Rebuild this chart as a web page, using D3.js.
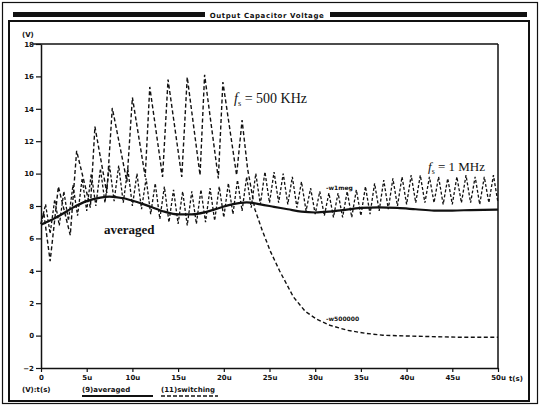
<!DOCTYPE html>
<html>
<head>
<meta charset="utf-8">
<script src="https://cdn.jsdelivr.net/npm/d3@7"></script>
<style>
  html, body { margin: 0; padding: 0; background: #fff; }
  svg { display: block; }
</style>
</head>
<body>
<div id="chart"></div>
<script>
// Output capacitor voltage: averaged model vs. switching model (500 kHz / 1 MHz)

const INK = '#111';
const FONT_TICK = "'DejaVu Sans', sans-serif";
const FONT_NOTE = "'Liberation Serif', serif";

// y ticks (V) and x ticks (us)
const yTicks = [-2, 0, 2, 4, 6, 8, 10, 12, 14, 16, 18];
const xTicks = [0, 5, 10, 15, 20, 25, 30, 35, 40, 45, 50];
const xTickLabels = ['0', '5u', '10u', '15u', '20u', '25u', '30u', '35u', '40u', '45u', '50u'];

// averaged model
const avgT = [0, 1, 2, 3.5, 5, 6.5, 7.5, 9, 10.5, 12, 13.5, 15, 16.5, 18, 19.5, 21, 22.5,
  24, 25.5, 27, 28.5, 30, 31.5, 33, 35, 37, 39, 41, 43, 45, 47, 50];
const avgV = [6.85, 7.1, 7.4, 7.9, 8.3, 8.52, 8.58, 8.48, 8.25, 7.95, 7.65, 7.48, 7.48, 7.62, 7.88, 8.12, 8.22,
  8.1, 7.95, 7.8, 7.65, 7.6, 7.65, 7.75, 7.88, 7.92, 7.88, 7.8, 7.72, 7.72, 7.75, 7.78];

// switching model, fs = 500 kHz
const sw500T = [0, 0.3, 1.0, 1.9, 3.2, 3.9, 5.4, 5.9, 7.2, 7.8, 9.4, 10.0, 11.4, 11.9, 13.3, 13.9,
  15.4, 16.0, 17.4, 17.9, 19.4, 19.9, 21.4, 22.0, 22.6, 23.4, 24.2, 25.1, 26.1, 27.6, 28.9,
  30.2, 31.6, 33.5, 35.4, 37.4, 41.1, 45.8, 50];
const sw500V = [6.9, 7.6, 4.6, 9.2, 6.2, 11.4, 7.9, 12.9, 8.8, 14.05, 9.5, 14.7, 9.8, 15.35, 9.8, 15.8,
  9.8, 15.95, 9.9, 16.1, 9.7, 15.65, 9.9, 13.3, 10.3, 7.8, 6.5, 5.2, 4.0, 2.4, 1.5,
  1.0, 0.64, 0.33, 0.15, 0.02, -0.04, -0.1, -0.1];

// switching model, fs = 1 MHz
const sw1mT = [0, 0.5, 1, 1.5, 2, 2.5, 3, 3.5, 4, 4.5, 5, 5.5, 6, 6.5, 7, 7.5, 8, 8.5, 9, 9.5,
  10, 10.5, 11, 11.5, 12, 12.5, 13, 13.5, 14, 14.5, 15, 15.5, 16, 16.5, 17, 17.5, 18, 18.5, 19, 19.5,
  20, 20.5, 21, 21.5, 22, 22.5, 23, 23.5, 24, 24.5, 25, 25.5, 26, 26.5, 27, 27.5, 28, 28.5, 29, 29.5,
  30, 30.5, 31, 31.5, 32, 32.5, 33, 33.5, 34, 34.5, 35, 35.5, 36, 36.5, 37, 37.5, 38, 38.5, 39, 39.5,
  40, 40.5, 41, 41.5, 42, 42.5, 43, 43.5, 44, 44.5, 45, 45.5, 46, 46.5, 47, 47.5, 48, 48.5, 49, 49.5, 50];
const sw1mV = [6.9, 8.1, 6.3, 8.4, 6.8, 8.9, 7.1, 9.3, 7.4, 9.7, 7.7, 10.0, 8.0, 10.3, 8.2, 10.5, 8.3, 10.5, 8.2, 10.3,
  8.0, 10.0, 7.8, 9.7, 7.5, 9.4, 7.2, 9.2, 7.0, 9.0, 6.9, 8.9, 6.8, 8.9, 6.9, 9.0, 7.0, 9.1, 7.1, 9.2,
  7.3, 9.4, 7.5, 9.6, 7.7, 9.8, 7.9, 10.0, 8.1, 10.1, 8.2, 10.1, 8.2, 10.0, 8.1, 9.8, 7.9, 9.5, 7.7, 9.1,
  7.5, 8.9, 7.4, 8.8, 7.3, 8.8, 7.3, 8.9, 7.3, 9.0, 7.4, 9.2, 7.5, 9.4, 7.7, 9.6, 7.8, 9.7, 8.0, 9.8,
  8.1, 9.9, 8.2, 9.9, 8.2, 9.8, 8.2, 9.8, 8.1, 9.7, 8.1, 9.8, 8.2, 9.9, 8.2, 9.8, 8.1, 9.8, 8.2, 9.9, 8.2];

const W = 540, H = 406;
const plot = { left: 41, top: 44, right: 498, bottom: 368 };

const svg = d3.select('#chart')
  .append('svg')
  .attr('width', W)
  .attr('height', H);

svg.append('rect').attr('width', W).attr('height', H).attr('fill', '#fff');

// window frame
svg.append('rect')
  .attr('x', 2.5).attr('y', 2.5).attr('width', 535).attr('height', 401)
  .attr('fill', 'none').attr('stroke', INK).attr('stroke-width', 1.2);
svg.append('rect')
  .attr('x', 9).attr('y', 21).attr('width', 520).attr('height', 380)
  .attr('fill', 'none').attr('stroke', INK).attr('stroke-width', 2);

// title bar
svg.append('rect').attr('x', 13).attr('y', 12).attr('width', 192).attr('height', 5).attr('fill', INK);
svg.append('rect').attr('x', 330).attr('y', 12).attr('width', 197).attr('height', 5).attr('fill', INK);
svg.append('text')
  .attr('x', 267).attr('y', 17.5)
  .attr('text-anchor', 'middle')
  .style('font-family', FONT_TICK)
  .style('font-size', '7px')
  .style('font-weight', 'bold')
  .style('letter-spacing', '0.6px')
  .style('fill', INK)
  .text('Output Capacitor Voltage');

const x = d3.scaleLinear().domain([0, 50]).range([plot.left, plot.right]);
const y = d3.scaleLinear().domain([-2, 18]).range([plot.bottom, plot.top]);

function styleAxis(g) {
  g.selectAll('text')
    .style('font-family', FONT_TICK)
    .style('font-size', '7px')
    .style('font-weight', 'bold')
    .style('fill', INK);
  g.selectAll('line').style('stroke', INK).style('stroke-width', 1.2);
  g.select('.domain').style('stroke', INK).style('stroke-width', 1.5);
}

// plot box (top + right)
svg.append('line')
  .attr('x1', plot.left - 8).attr('x2', plot.right)
  .attr('y1', plot.top).attr('y2', plot.top)
  .attr('stroke', INK).attr('stroke-width', 1.5);
svg.append('line')
  .attr('x1', plot.right).attr('x2', plot.right)
  .attr('y1', plot.top).attr('y2', plot.bottom)
  .attr('stroke', INK).attr('stroke-width', 1.5);

const yAxis = svg.append('g')
  .attr('transform', `translate(${plot.left},0)`)
  .call(d3.axisLeft(y).tickValues(yTicks).tickSize(5).tickSizeOuter(0).tickPadding(2));
styleAxis(yAxis);

const xAxis = svg.append('g')
  .attr('transform', `translate(0,${plot.bottom})`)
  .call(d3.axisBottom(x).tickValues(xTicks).tickSize(4).tickSizeOuter(0).tickPadding(3)
    .tickFormat((d, i) => xTickLabels[i]));
styleAxis(xAxis);

svg.append('text')
  .attr('x', 509).attr('y', plot.bottom + 13)
  .style('font-family', FONT_TICK).style('font-size', '7px').style('font-weight', 'bold')
  .style('fill', INK).text('t(s)');

svg.append('text')
  .attr('x', 22).attr('y', 37)
  .style('font-family', FONT_TICK).style('font-size', '7px').style('font-weight', 'bold')
  .style('fill', INK).text('(V)');

// curves
const line = d3.line().x(d => x(d[0])).y(d => y(d[1]));

svg.append('path')
  .datum(d3.zip(sw1mT, sw1mV))
  .attr('fill', 'none')
  .attr('stroke', INK)
  .attr('stroke-width', 1.3)
  .attr('stroke-dasharray', '3,2')
  .attr('d', line);

svg.append('path')
  .datum(d3.zip(sw500T, sw500V))
  .attr('fill', 'none')
  .attr('stroke', INK)
  .attr('stroke-width', 1.4)
  .attr('stroke-dasharray', '4,2.5')
  .attr('d', line);

svg.append('path')
  .datum(d3.zip(avgT, avgV))
  .attr('fill', 'none')
  .attr('stroke', INK)
  .attr('stroke-width', 2.2)
  .attr('d', line.curve(d3.curveMonotoneX));

// annotations
function fsLabel(px, py, size, rest) {
  const t = svg.append('text')
    .attr('x', px).attr('y', py)
    .style('font-family', FONT_NOTE)
    .style('font-size', size + 'px')
    .style('fill', INK);
  t.append('tspan').style('font-style', 'italic').text('f');
  t.append('tspan').attr('dy', 3).style('font-size', (size * 0.6) + 'px').text('s');
  t.append('tspan').attr('dy', -3).text(rest);
}
fsLabel(234, 103, 14, ' = 500 KHz');
fsLabel(428, 171, 13, ' = 1 MHz');

svg.append('text')
  .attr('x', 104).attr('y', 234)
  .style('font-family', FONT_NOTE)
  .style('font-size', '13px')
  .style('font-weight', 'bold')
  .style('fill', INK)
  .text('averaged');

// trace tags
svg.append('text')
  .attr('x', 326).attr('y', 190)
  .style('font-family', FONT_TICK).style('font-size', '6px').style('font-weight', 'bold')
  .style('fill', INK).text('-w1meg');
svg.append('text')
  .attr('x', 326).attr('y', 321)
  .style('font-family', FONT_TICK).style('font-size', '6px').style('font-weight', 'bold')
  .style('fill', INK).text('-w500000');

// legend row
const legY = 392;
svg.append('text')
  .attr('x', 22).attr('y', legY)
  .style('font-family', FONT_TICK).style('font-size', '7px').style('font-weight', 'bold')
  .style('fill', INK).text('(V):t(s)');
svg.append('text')
  .attr('x', 82).attr('y', legY)
  .style('font-family', FONT_TICK).style('font-size', '7px').style('font-weight', 'bold')
  .style('fill', INK).text('(9)averaged');
svg.append('line')
  .attr('x1', 82).attr('x2', 153).attr('y1', legY + 4).attr('y2', legY + 4)
  .attr('stroke', INK).attr('stroke-width', 2);
svg.append('text')
  .attr('x', 161).attr('y', legY)
  .style('font-family', FONT_TICK).style('font-size', '7px').style('font-weight', 'bold')
  .style('fill', INK).text('(11)switching');
svg.append('line')
  .attr('x1', 161).attr('x2', 218).attr('y1', legY + 4).attr('y2', legY + 4)
  .attr('stroke', INK).attr('stroke-width', 1.5).attr('stroke-dasharray', '4,2');
</script>
</body>
</html>
